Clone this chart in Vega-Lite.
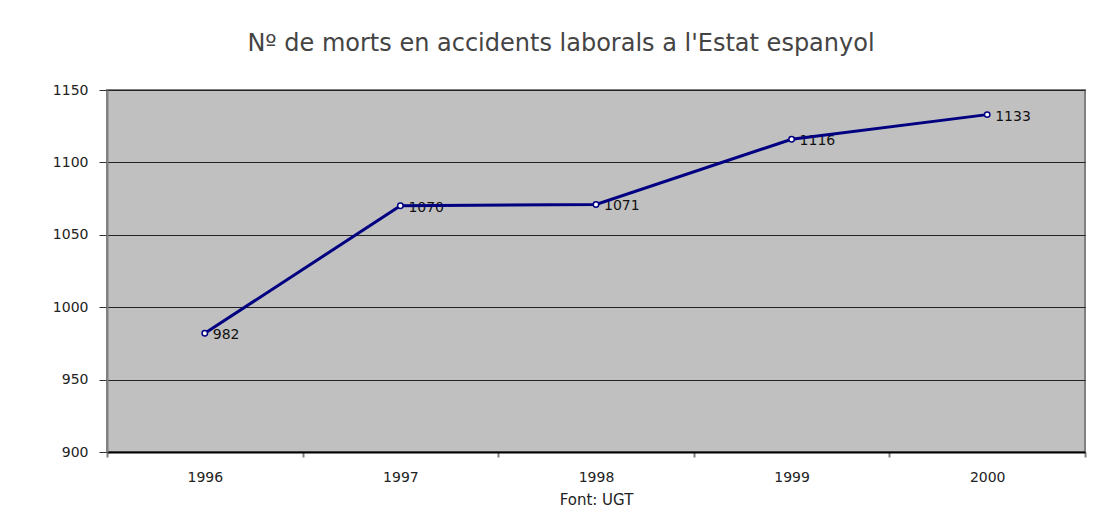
{
  "$schema": "https://vega.github.io/schema/vega-lite/v6.json",
  "autosize": {"type": "none"},
  "width": 978,
  "height": 362,
  "padding": {"left": 107, "top": 90, "right": 22, "bottom": 68},
  "background": "#ffffff",
  "title": {
    "text": "Nº de morts en accidents laborals a l'Estat espanyol",
    "font": "DejaVu Sans",
    "fontSize": 24,
    "fontWeight": "normal",
    "color": "#444444",
    "anchor": "middle",
    "dx": -35,
    "offset": 27
  },
  "config": {
    "view": {"fill": "#c0c0c0", "stroke": "#808080", "strokeWidth": 2},
    "axis": {"labelFont": "DejaVu Sans", "titleFont": "DejaVu Sans", "labelColor": "#222222", "titleColor": "#222222"}
  },
  "data": {
    "values": [
      {"year": "1996", "deaths": 982},
      {"year": "1997", "deaths": 1070},
      {"year": "1998", "deaths": 1071},
      {"year": "1999", "deaths": 1116},
      {"year": "2000", "deaths": 1133}
    ]
  },
  "encoding": {
    "x": {
      "field": "year",
      "type": "ordinal",
      "scale": {"type": "band", "paddingInner": 0, "paddingOuter": 0},
      "axis": {
        "title": "Font: UGT",
        "titleFontSize": 15,
        "titleFontWeight": "normal",
        "titlePadding": 8,
        "labelAngle": 0,
        "labelFontSize": 14,
        "labelPadding": 13,
        "tickBand": "extent",
        "tickSize": 5,
        "tickColor": "#808080",
        "tickWidth": 2,
        "domainColor": "#000000",
        "domainWidth": 2,
        "grid": false
      }
    },
    "y": {
      "field": "deaths",
      "type": "quantitative",
      "scale": {"domain": [900, 1150], "nice": false, "zero": false},
      "axis": {
        "title": null,
        "format": "d",
        "values": [900, 950, 1000, 1050, 1100, 1150],
        "labelFontSize": 14,
        "labelPadding": 11,
        "tickSize": 8,
        "tickColor": "#333333",
        "domainColor": "#808080",
        "domainWidth": 2,
        "grid": true,
        "gridColor": "#222222",
        "gridWidth": 1,
        "gridOpacity": 1
      }
    }
  },
  "layer": [
    {"mark": {"type": "text", "align": "left", "baseline": "middle", "dx": 8, "dy": 2, "fontSize": 14, "font": "DejaVu Sans", "color": "#111111"},
     "encoding": {"text": {"field": "deaths", "type": "quantitative"}}},
    {"mark": {"type": "line", "color": "#000080", "strokeWidth": 3}},
    {"mark": {"type": "point", "shape": "circle", "filled": true, "fill": "#ffffff", "stroke": "#000080", "strokeWidth": 1.5, "size": 30, "opacity": 1}}
  ]
}
